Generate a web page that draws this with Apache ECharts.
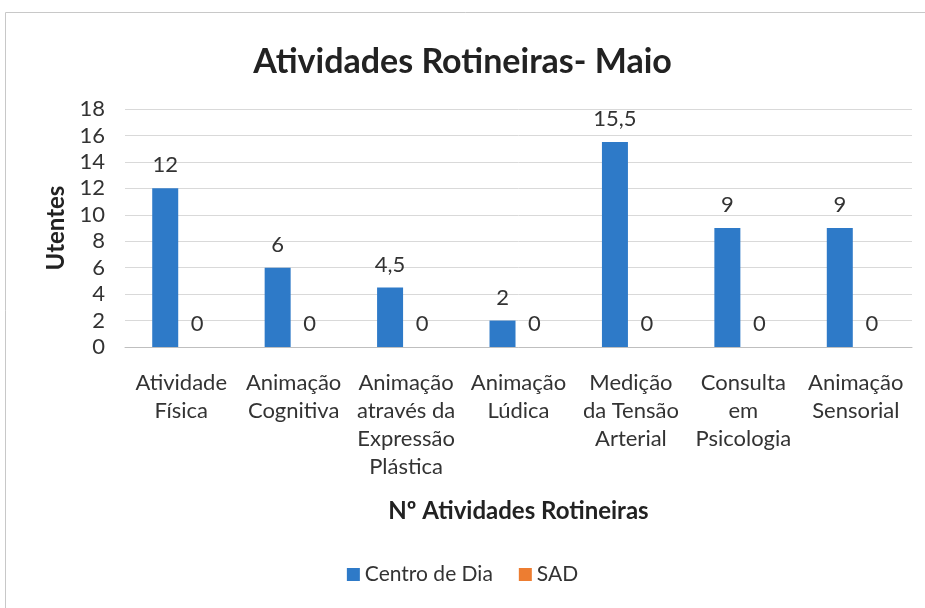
<!DOCTYPE html>
<html>
<head>
<meta charset="utf-8">
<script src="https://cdn.jsdelivr.net/npm/echarts@6/dist/echarts.min.js"></script>
<style>
    html, body { margin: 0; padding: 0; background: #fff; }
    #chart { width: 925px; height: 608px; }
</style>
</head>
<body>
<div id="chart"></div>
<script>
// dados
var categorias = [
    'Atividade\nFísica',
    'Animação\nCognitiva',
    'Animação\natravés da\nExpressão\nPlástica',
    'Animação\nLúdica',
    'Medição\nda Tensão\nArterial',
    'Consulta\nem\nPsicologia',
    'Animação\nSensorial'
];
var centroDeDia = [12, 6, 4.5, 2, 15.5, 9, 9];
var sad = [0, 0, 0, 0, 0, 0, 0];
var fonte = 'Lato, "Noto Sans", sans-serif';

var myChart = echarts.init(document.getElementById('chart'));

// rótulo com vírgula decimal
function rotulo(p) {
    return String(p.value).replace('.', ',');
}

var option = {
    backgroundColor: '#fff',
    textStyle: { fontFamily: fonte },
    title: {
        text: 'Atividades Rotineiras- Maio',
        left: 'center',
        top: 40,
        textStyle: { fontFamily: fonte, fontSize: 34, fontWeight: 'bold', color: '#222' }
    },
    graphic: [
        {
            type: 'rect',
            shape: { x: 5.5, y: 12.5, width: 940, height: 620 },
            style: { fill: 'none', stroke: '#c8c8c8', lineWidth: 1 },
            z: -1
        }
    ],
    color: ['#2e7ac8', '#ed7d31'],
    legend: {
        bottom: 18,
        left: 'center',
        itemWidth: 13,
        itemHeight: 13,
        itemGap: 26,
        icon: 'rect',
        textStyle: { fontFamily: fonte, fontSize: 21, color: '#333' },
        data: ['Centro de Dia', 'SAD']
    },
    grid: { left: 125, right: 13, top: 109, bottom: 261 },
    xAxis: {
        type: 'category',
        data: categorias,
        name: 'Nº Atividades Rotineiras',
        nameLocation: 'middle',
        nameGap: 152,
        nameTextStyle: { fontFamily: fonte, fontSize: 24, fontWeight: 'bold', color: '#222' },
        axisLine: { lineStyle: { color: '#bfbfbf' } },
        axisTick: { show: false },
        axisLabel: {
            interval: 0,
            margin: 22,
            fontSize: 22,
            lineHeight: 28,
            color: '#333',
            fontFamily: fonte
        }
    },
    yAxis: {
        type: 'value',
        min: 0,
        max: 18,
        interval: 2,
        name: 'Utentes',
        nameLocation: 'middle',
        nameGap: 52,
        nameTextStyle: { fontFamily: fonte, fontSize: 24, fontWeight: 'bold', color: '#222' },
        axisLabel: { fontSize: 22, color: '#333', margin: 20, fontFamily: fonte },
        splitLine: { lineStyle: { color: '#d9d9d9' } }
    },
    series: [
        {
            name: 'Centro de Dia',
            type: 'bar',
            data: centroDeDia,
            barWidth: 26,
            barGap: '23%',
            label: {
                show: true,
                position: 'top',
                distance: 12,
                fontSize: 22,
                color: '#333',
                fontFamily: fonte,
                formatter: rotulo
            }
        },
        {
            name: 'SAD',
            type: 'bar',
            data: sad,
            barWidth: 26,
            label: {
                show: true,
                position: 'top',
                distance: 12,
                fontSize: 22,
                color: '#333',
                fontFamily: fonte,
                formatter: rotulo
            }
        }
    ]
};

myChart.setOption(option);
</script>
</body>
</html>
